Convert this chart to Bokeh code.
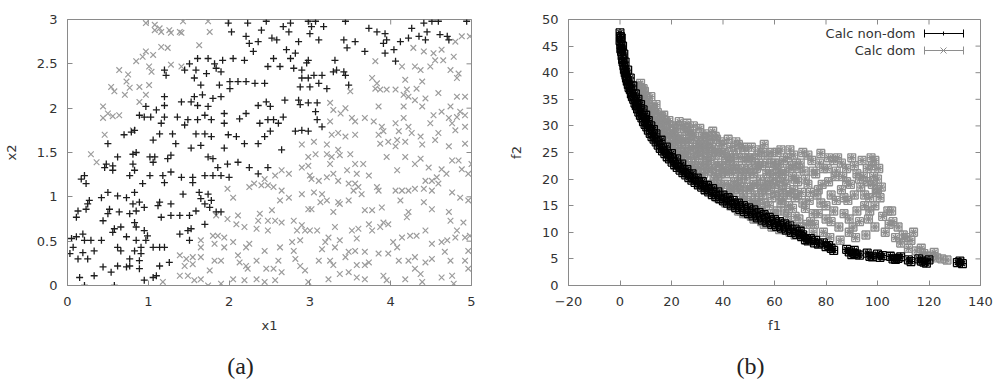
import math
from bokeh.plotting import figure
from bokeh.layouts import row, column
from bokeh.models import Range1d, FixedTicker, ColumnDataSource, Label, Arrow, TeeHead
from bokeh.embed import file_html
from bokeh.resources import INLINE

# ---------------- panel (a): decision space ----------------
nondom_a = [
 (1.99,2.96),(2.23,2.96),(2.46,2.98),(2.03,2.86),(2.21,2.81),(2.40,2.88),(2.25,2.73),(2.36,2.75),(2.30,2.64),
 (2.05,2.56),(2.19,2.54),(1.92,2.54),(1.82,2.50),(1.74,2.56),(1.61,2.56),(1.51,2.50),(1.59,2.43),(1.72,2.39),
 (1.84,2.45),(1.90,2.41),(1.45,2.43),(1.20,2.43),(1.22,2.37),(1.57,2.34),(1.65,2.26),(1.88,2.26),(2.01,2.30),
 (2.11,2.30),(2.21,2.30),(2.32,2.28),(2.44,2.28),(2.48,2.47),(2.01,2.22),(1.90,2.13),(1.80,2.11),(1.67,2.15),
 (1.57,2.13),(1.53,2.07),(1.41,2.07),(1.20,2.13),(1.20,2.03),(0.97,2.02),(1.10,1.98),(0.89,1.92),(0.95,1.90),
 (1.03,1.90),(1.20,1.90),(1.16,1.83),(1.36,1.90),(1.49,1.87),(1.45,1.81),(1.61,1.87),(1.70,1.92),(1.78,1.87),
 (1.94,1.94),(1.94,1.83),(2.13,1.88),(2.21,1.94),(2.36,2.03),(2.46,2.07),(2.38,1.83),(2.48,1.87),(1.61,2.03),
 (1.74,2.02),(0.70,1.70),(0.79,1.73),(0.83,1.75),(1.14,1.71),(1.30,1.71),(1.06,1.64),(1.59,1.71),(1.70,1.71),
 (1.78,1.68),(1.99,1.70),(2.09,1.68),(0.50,1.60),(1.34,1.60),(1.53,1.55),(1.65,1.58),(1.94,1.55),(2.19,1.60),
 (2.36,1.60),(2.44,1.68),
 (2.76,2.96),(2.67,2.92),(2.74,2.86),(2.98,2.98),(3.07,2.98),(3.02,2.92),(3.00,2.84),(3.11,2.77),(3.17,2.92),
 (3.44,2.98),(2.53,2.79),(2.59,2.77),(2.86,2.75),(2.71,2.66),(2.82,2.62),(2.76,2.56),(2.55,2.56),(2.98,2.54),
 (2.96,2.51),(2.80,2.45),(2.90,2.43),(2.63,2.47),(3.31,2.54),(3.29,2.41),(3.42,2.41),(3.44,2.37),(3.48,2.26),
 (3.33,2.43),(3.42,2.77),(3.56,2.75),(3.46,2.68),(3.68,2.64),(3.73,2.90),(3.83,2.86),(3.93,2.84),(3.95,2.77),
 (3.91,2.73),(4.12,2.75),(4.04,2.66),(4.06,2.53),(3.93,2.62),(4.22,2.79),(4.35,2.81),(4.43,2.77),(4.45,2.86),
 (4.41,2.96),(4.51,2.98),(4.59,2.98),(4.61,2.83),(4.70,2.81),(4.72,2.77),(4.94,2.98),(4.26,2.90),(2.90,2.34),
 (2.98,2.34),(3.05,2.37),(3.15,2.37),(2.88,2.24),(3.00,2.24),(3.11,2.28),(3.21,2.22),(2.69,2.09),(2.86,2.09),
 (2.88,2.04),(2.98,2.06),(3.09,2.06),(3.07,1.96),(3.09,1.87),(3.15,1.79),(2.51,2.02),(2.55,1.87),(2.61,1.83),
 (2.67,1.90),(2.51,1.74),(2.82,1.74),(2.90,1.75),(2.98,1.74),(2.65,1.53),
 (0.62,1.45),(0.81,1.48),(0.85,1.50),(1.02,1.45),(1.08,1.45),(1.06,1.39),(1.24,1.43),(1.28,1.47),(0.81,1.37),
 (0.83,1.30),(0.48,1.37),(0.46,1.33),(0.56,1.35),(0.56,1.30),(0.21,1.24),(0.17,1.20),(0.23,1.15),(0.77,1.24),
 (1.02,1.24),(1.18,1.24),(1.20,1.16),(1.28,1.28),(1.41,1.22),(1.55,1.16),(1.55,1.22),(1.70,1.24),(1.80,1.24),
 (1.90,1.24),(2.00,1.22),(2.11,1.39),(1.98,1.37),(1.80,1.43),(1.86,1.33),(1.74,1.45),(2.25,1.33),(2.36,1.26),
 (2.48,1.33),(0.93,1.15),(0.50,1.05),(0.42,0.99),(0.27,0.96),(0.25,0.92),(0.23,0.86),(0.13,0.84),(0.11,0.77),
 (0.62,1.01),(0.73,0.99),(0.83,1.05),(0.81,0.92),(0.89,0.94),(0.95,0.88),(0.85,0.84),(0.77,0.81),(0.52,0.86),
 (0.50,0.81),(0.64,0.83),(0.44,0.73),(0.58,0.64),(0.56,0.60),(0.66,0.66),(1.14,0.94),(1.12,0.90),(1.28,0.92),
 (1.16,0.77),(1.28,0.79),(1.43,1.03),(1.63,1.05),(1.65,0.98),(1.74,1.03),(1.78,0.96),(1.70,0.92),(1.76,0.88),
 (1.84,0.83),(1.90,0.83),(1.59,0.84),(1.70,0.69),(1.51,0.79),(1.39,0.79),(1.53,0.64),(1.49,0.62),(1.39,0.58),
 (0.83,0.71),(0.85,0.66),(0.95,0.62),(0.99,0.56),(0.97,0.51),(1.06,0.43),(1.14,0.43),(1.20,0.43),(0.73,0.55),
 (0.85,0.51),(0.91,0.43),(1.51,0.51),(0.05,0.53),(0.07,0.43),(0.03,0.36),(0.13,0.30),(0.21,0.51),(0.29,0.51),
 (0.42,0.51),(0.19,0.37),(0.25,0.30),(0.33,0.39),(0.62,0.43),(0.66,0.39),(0.83,0.39),(0.91,0.36),(0.77,0.30),
 (0.89,0.28),(0.77,0.22),(0.89,0.19),(0.62,0.22),(0.44,0.21),(0.54,0.15),(0.73,0.21),(1.14,0.22),(1.26,0.26),
 (1.10,0.11),(1.06,0.09),(0.95,0.06),(0.15,0.09),(0.33,0.11),(0.21,0.00),(0.58,0.00),(0.11,0.55),(0.19,0.58),
]

dom_a = [
 (0.97,2.96),(1.08,2.94),(1.14,2.90),(1.08,2.88),(1.16,2.86),(1.26,2.88),(1.28,2.85),(1.39,2.86),(1.41,2.85),
 (1.43,2.98),(1.74,2.98),(1.76,2.86),(1.63,2.71),(1.16,2.69),(1.24,2.68),(0.97,2.64),(1.06,2.60),(0.93,2.58),
 (0.85,2.53),(1.01,2.47),(1.04,2.41),(1.28,2.49),(1.41,2.47),(0.64,2.43),(0.75,2.38),(0.73,2.30),(0.54,2.24),
 (0.58,2.19),(0.77,2.23),(0.71,2.15),(0.89,2.24),(1.01,2.26),(0.97,2.15),(0.89,2.07),(0.44,2.02),(0.50,1.94),
 (0.44,1.89),(0.56,1.91),(0.64,1.92),(0.46,1.70),(0.81,1.75),
 (4.28,2.68),(4.41,2.64),(4.53,2.62),(4.63,2.66),(4.55,2.54),(4.65,2.54),(4.78,2.58),(4.80,2.75),(4.88,2.81),
 (4.98,2.81),(4.30,2.47),(4.14,2.47),(4.18,2.32),(4.37,2.43),(4.49,2.47),(4.74,2.43),(4.84,2.39),(4.82,2.34),
 (3.81,2.53),(3.77,2.34),(3.83,2.28),(3.81,2.22),(3.87,2.21),(3.95,2.21),(4.06,2.21),(4.20,2.21),(4.32,2.22),
 (4.39,2.30),(4.16,2.15),(4.22,2.13),(4.30,2.09),(4.43,2.11),(4.59,2.17),(4.82,2.13),(4.92,2.13),(3.85,2.02),
 (4.16,2.02),(4.39,2.02),(4.63,1.96),(4.53,1.92),(4.74,2.02),(4.86,1.96),(4.82,1.90),(4.92,1.92),(3.25,2.06),
 (3.29,1.98),(3.38,1.94),(3.44,2.00),(3.52,1.89),(3.56,1.85),(3.68,1.89),(3.79,1.85),(3.25,1.85),(3.89,1.79),
 (4.06,1.83),(4.16,1.89),(4.22,1.79),(4.10,1.74),(3.91,1.74),(4.26,1.72),(4.49,1.83),(4.72,1.89),(4.76,1.83),
 (4.59,1.72),(4.80,1.75),(4.92,1.79),(3.27,1.70),(3.35,1.72),(3.44,1.68),(3.56,1.70),(2.90,1.59),(3.05,1.62),
 (3.21,1.59),(3.35,1.53),(3.85,1.70),(3.87,1.60),(3.97,1.62),(4.08,1.64),(4.06,1.57),(4.18,1.62),(4.37,1.68),
 (4.39,1.59),(4.55,1.64),(4.72,1.57),(4.92,1.60),(3.50,2.19),
 (0.29,1.48),(0.36,1.39),(1.98,1.09),(2.25,1.11),(2.31,1.15),(2.40,1.13),(2.44,1.20),(2.48,1.13),(2.05,0.99),
 (1.84,0.79),(1.98,0.75),(2.11,0.79),(2.09,0.69),(2.19,0.66),(2.38,0.81),(2.36,0.73),(2.48,0.73),(2.34,0.64),
 (2.48,0.62),(1.80,0.56),(1.86,0.56),(1.94,0.54),(1.82,0.47),(1.94,0.43),(2.05,0.49),(1.65,0.43),(1.65,0.51),
 (1.39,0.34),(1.47,0.30),(1.55,0.32),(1.65,0.32),(1.45,0.22),(1.55,0.24),(1.82,0.28),(1.90,0.28),(1.76,0.17),
 (2.11,0.34),(2.21,0.43),(2.25,0.47),(2.13,0.26),(2.21,0.22),(2.34,0.28),(2.44,0.39),(2.46,0.19),(2.23,0.19),
 (1.39,0.11),(1.49,0.11),(1.57,0.06),(1.65,0.07),(1.74,0.00),(1.90,0.02),(2.05,0.07),(2.19,0.06),(2.34,0.07),
 (2.44,0.04),(1.18,0.04),
 (2.98,1.45),(3.07,1.48),(3.21,1.48),(3.27,1.45),(3.37,1.47),(3.50,1.48),(3.25,1.37),(2.90,1.33),(2.98,1.35),
 (3.02,1.20),(3.00,1.24),(3.11,1.18),(3.21,1.22),(3.29,1.26),(3.35,1.18),(3.46,1.30),(3.56,1.37),(3.66,1.37),
 (3.73,1.24),(3.58,1.26),(2.57,1.24),(2.65,1.30),(2.74,1.26),(2.55,1.11),(2.65,1.07),(2.74,0.99),(2.63,0.96),
 (2.53,0.85),(2.90,1.03),(3.05,1.05),(3.15,1.03),(3.21,0.96),(3.13,0.94),(2.98,0.86),(3.02,0.86),(3.29,0.83),
 (3.35,0.94),(3.37,0.92),(3.48,0.96),(3.54,1.07),(3.60,1.11),(3.64,1.03),(3.48,1.15),(3.56,1.15),(3.68,0.85),
 (3.77,0.85),(3.89,0.88),(3.85,1.07),(3.83,1.11),(4.06,1.07),(4.14,1.07),(4.22,1.07),(4.30,1.09),(4.43,1.18),
 (4.51,1.18),(4.41,1.09),(4.51,1.07),(4.59,1.15),(4.69,1.26),(4.76,1.41),(4.84,1.41),(4.63,1.31),(4.88,1.31),
 (4.96,1.26),(5.00,1.37),(3.95,1.45),(4.08,1.30),(4.18,1.45),(4.30,1.37),(4.37,1.43),(4.47,1.33),(4.57,1.22),
 (4.12,0.96),(4.22,0.83),(4.20,0.77),(4.41,0.94),(4.51,0.86),(4.72,0.83),(4.76,1.05),(4.86,0.99),(4.96,0.96),
 (4.90,0.71),(4.74,0.73),(2.57,0.73),(2.65,0.71),(2.80,0.73),(2.84,0.62),(2.90,0.68),(2.94,0.62),(3.00,0.62),
 (3.09,0.62),(2.88,0.51),(2.78,0.49),(2.80,0.39),(2.82,0.30),(2.88,0.22),(2.63,0.43),(2.61,0.28),(2.55,0.19),
 (2.65,0.15),(2.57,0.06),(3.23,0.54),(3.19,0.49),(3.15,0.41),(3.31,0.66),(3.31,0.43),(3.37,0.51),(3.52,0.62),
 (3.60,0.64),(3.58,0.53),(3.73,0.69),(3.77,0.62),(3.87,0.66),(3.91,0.71),(3.97,0.69),(3.11,0.28),(3.25,0.28),
 (3.29,0.23),(3.44,0.32),(3.48,0.38),(3.56,0.39),(3.68,0.38),(3.73,0.26),(3.68,0.23),(3.58,0.23),(3.85,0.36),
 (3.97,0.36),(4.03,0.49),(4.08,0.43),(4.14,0.54),(4.24,0.56),(4.32,0.56),(4.43,0.62),(4.51,0.47),(4.63,0.49),
 (4.70,0.51),(4.67,0.38),(4.82,0.62),(4.80,0.54),(4.92,0.54),(4.98,0.56),(4.96,0.39),(4.74,0.28),(4.92,0.28),
 (4.96,0.19),(4.51,0.30),(4.43,0.26),(4.30,0.32),(4.22,0.28),(4.10,0.28),(4.30,0.19),(2.98,0.04),(3.23,0.07),
 (3.37,0.13),(3.48,0.15),(3.58,0.09),(3.68,0.07),(3.91,0.11),(3.95,0.06),(4.18,0.07),(4.37,0.13),(4.63,0.09),
 (4.76,0.11),(2.94,0.17),(4.39,0.04),(4.78,0.02),
]

# ---------------- panel (b): objective space ----------------
nondom_b = [
 (0,47.5),(0.2,46.8),(0,46),(0.4,45.2),(0.3,44.5),(0.6,44),(0.8,43.2),(1,42.5),(1.2,42),(1.5,41.3),(1.7,40.6),
 (2,40),(2.3,39.5),(2.5,39),(2.8,38.4),(3.2,37.8),(3.5,37.2),(4,36.8),(4.4,36),(4.8,35.5),(5.3,35),(5.8,34.3),
 (6.3,33.8),(6.8,33.2),(7.3,32.6),(7.9,32),(8.5,31.5),(9.1,30.8),(9.7,30.3),(10.4,29.8),(11,29.2),(11.7,28.6),
 (12.4,28),(13.2,27.5),(14,27),(14.8,26.4),(15.6,25.8),(16.5,25.3),(17.4,24.8),(18.3,24.2),(19.2,23.8),
 (20.2,23.2),(21.2,22.7),(22.2,22.2),(23.3,21.7),(24.4,21.2),(25.5,20.8),(26.7,20.3),(27.9,19.8),(29.1,19.4),
 (30.4,18.9),(31.7,18.5),(33,18),(34.4,17.6),(35.8,17.1),(37.2,16.7),(38.7,16.3),(40.2,15.9),(41.7,15.5),
 (43.3,15.1),(44.9,14.7),(46.5,14.3),(48.2,13.9),(49.9,13.5),(51.6,13.1),(53.4,12.7),(55.2,12.3),(57,11.9),
 (58.9,11.5),(60.8,11.1),(62.7,10.8),(64.6,10.4),(66.6,10),(68.6,9.6),(70.5,9.2),(72,8.6),(73,8.4),(75.5,8),
 (77,7.8),(80,7.3),(82,7),(83,6.6),(89,6.3),(90,5.8),(91,6),(92,5.9),(93,5.7),(97,5.5),(98,5.4),(101,5.3),
 (102,5.6),(106,5),(107,4.9),(108,5.1),(112,4.8),(113,4.5),(117,4.6),(118,4.4),(119,4.2),(131,4.3),(133,4.1),
 (0.5,46.5),(1,45),(1.5,43.5),(2,42),(3,40.5),(4,39),(5,37.5),(6,36),(7,35),(8,34),(9,33),(10,32),(11,31),
 (12,30),(13,29.3),(14,28.5),(16,27.3),(18,26),(20,24.8),(22,23.8),(24,22.8),(26,21.8),(28,21),(30,20.2),
 (32,19.5),(34,18.8),(36,18.2),(38,17.6),(40,17),(42,16.5),(44,16),(46,15.5),(48,15),(50,14.6),(52,14.2),
 (54,13.7),(56,13.3),(58,12.8),(60,12.4),(62,12),(64,11.6),(66,11.2),(68,10.6),(70,10.2),(71,9.5),(74,8.8),
 (76,8.5),(79,8),(81,7.5),(88,6.8),(91,6.6),(96,6.1),(100,5.9),(105,5.5),(109,5.4),(116,5),(120,4.8),(132,4.6),
]

dom_b = [
 (6,37),(7,36.5),(8,38),(9,35),(8.5,36.8),(10,34),(7.5,35.5),(9.5,36.5),
 (11,33),(12,35.5),(13,31),(12.5,33.5),(14,34),(14.5,30.5),(11.5,31.5),(13.5,32.5),(15,29),
 (16,31.8),(17,29),(18,30.5),(16.5,27.5),(19,27),(18.5,28.5),(20,26),(17.5,31),(19.5,30),(15.5,30),
 (21,29),(22,25),(23,30.8),(24,27),(21.5,23.5),(22.5,28),(24.5,24),(25,29.5),(23.5,22.5),(20.5,27),
 (26,30.5),(27,26),(28,28.5),(26.5,22.5),(29,24),(30,27),(27.5,21),(28.5,30),(29.5,21.5),(26,25),
 (31,29.5),(32,25.5),(33,22),(34,28),(31.5,20.5),(33.5,24),(35,19),(30.5,23),(32.5,27),(34.5,21.5),
 (36,29),(37,24.5),(38,20),(39,27),(36.5,18.5),(38.5,22.5),(40,17.5),(35.5,26),(37.5,27.5),(39.5,25),
 (41,21),(42,27.5),(43,18),(44,24.5),(41.5,16.5),(43.5,22),(45,16),(40.5,25),(44.5,19.5),(42.5,23.5),
 (46,26.5),(47,20),(48,17),(49,23.5),(46.5,15.5),(48.5,25.5),(50,14.5),(45.5,22),(47.5,24),(49.5,18.5),
 (51,26),(52,19),(53,22),(54,16),(51.5,13.5),(53.5,24.5),(55,14),(50.5,21),(52.5,17),(54.5,20),
 (56,26.5),(57,21),(58,15),(59,23),(56.5,12.5),(58.5,18.5),(60,13.5),(55.5,17),(57.5,24.5),(59.5,20),
 (61,25),(62,17),(63,21),(64,14),(61.5,12),(63.5,23.5),(65,11.5),(60.5,19),(62.5,15.5),(64.5,19),
 (66,25.5),(67,20.5),(68,13),(69,17),(66.5,10.5),(68.5,23),(70,11),(65.5,15),(67.5,18),(69.5,22),
 (71,25),(72,14.5),(73,19),(74,12),(71.5,21.5),(73.5,16),(75,10),(70.5,17.5),(74.5,23.5),
 (76,21),(77,13.5),(78,24.8),(79,10),(76.5,17),(78.5,19),(80,15),(75.5,11.5),(77.5,23),
 (81,19.5),(82,12),(83,23.5),(84,16),(81.5,9),(83.5,20.5),(85,11),(80.5,22),(84.5,24),
 (86,18),(87,13.5),(88,22),(89,10),(86.5,20.5),(88.5,16),(90,24),(85.5,8.5),(89.5,19),
 (91,17),(92,21),(93,12),(94,23.5),(91.5,9),(93.5,18.5),(95,15),(90.5,11),(94.5,20.5),
 (96,22),(97,16.5),(98,19),(99,23.5),(96.5,12.5),(98.5,20.5),(100,20),(95.5,9.5),(99.5,17.5),(97.5,24),
 (101,16.5),(102,13),(103,10),(104,14),(101.5,18.5),(104.5,11.5),(100.5,22),
 (106,12),(107,9),(108,11),(109,8),(105.5,14),(110,9.5),
 (111,9),(112,7),(113,8.5),(115,6.5),(117,7),(118,6),(119,5.5),(114,10),
 (121,5.5),(123,5.2),(125,5),(127,4.8),(122,6.2),
 (6.5,35.5),(8,34.5),(9,33.5),(10.5,32),(11,30.5),(12,30),(13,29.5),(14,28.5),(15,28),(16,27),(17,26.5),
 (18,26),(19,25.5),(20,25),(21,24.5),(22,24),(23,23),(24,22.5),(25,22),(26,21.5),(27,21.5),(28,20.5),
 (29,20),(30,20),(31,19),(32,19),(33,18.5),(34,18),(35,18),(36,17.5),(37,17),(38,16.5),(39,16.5),(40,16),
 (41,15.5),(42,15.5),(43,15),(44,15),(45,14.5),(46,14),(47,14),(48,13.5),(49,13.5),(50,13.5),(51,13),
 (52,12.5),(53,12.5),(54,12.5),(55,12),(56,11.5),(57,11.5),(58,11.5),(59,11),(60,11),(62,10.5),(64,10.5),
 (66,10),(68,9.5),
 (12,32),(14,31),(16,29),(18,28),(20,28.5),(22,27),(24,26),(26,27.5),(28,25.5),(30,25),(32,23),(34,25),
 (36,22),(38,25.5),(40,22),(42,19),(44,21),(46,18),(48,22),(50,24),(52,21),(54,23),(56,19),(58,21.5),
 (60,23),(62,19.5),(64,21.5),(66,17.5),(68,20),(27,29),(31,26.5),(35,23.5),(39,19),(43,26),(47,18.5),
 (51,16),(55,22.5),(59,16.5),(63,18),(67,22.5),(33,28.5),(37,21),(41,23),(45,25.5),(49,20),(53,15),
 (57,18),(61,22),(65,24),
 (5.5,36.5),(7,37.5),(9,37),(10,35.5),(11,34.5),(12.5,31),(13,33.5),(14.5,32.5),(15.5,31.5),(10.5,33),
 (16.5,30.5),(17,32),(18,29.5),(19,31),(19.5,28),(20.5,30),(21,26),(22,29.5),(23,27.5),(23.5,25),(24,30),
 (25,27),(25,24.5),(21,28),(26,29),(27,27.5),(27.5,24),(28,23),(29,28),(29.5,26),(30,22),(31,24.5),(32,28),
 (32.5,21),(33,26),(34,23),(34.5,26.5),(35,27.5),(36,25),(36.5,20),(37,28),(38,23),(38.5,18),(39,21),
 (40,26.5),(40.5,19),(41,24),(42,21.5),(42.5,17),(43,24),(44,18),(44.5,22.5),(45,27),(45.5,19),(46,24),
 (47,16),(47.5,21),(48,26),(49,16),(50,22),(50.5,18),(51,24),(52,15),(52.5,23),(53,19),(54,25.5),(54.5,14.5),
 (55,18),(55.5,25),(56,15.5),(57,23),(58,19.5),(58.5,13),(59,25),(60,17.5),(60.5,21),(61,14),(62,23),
 (62.5,25.5),(63,16),(64,20),(65,17),(65,13),(66,22),(67,14.5),(67.5,24.5),(68,16.5),(69,19.5),(69.5,12.5),
 (70,23),(71,15.5),(72,20),(72.5,11.5),(73,24.5),(74,17.5),(75,21.5),(75,13.5),(77,18),(78,15.5),(79,22),
 (80,12.5),(81,24),(82,17),(83,14),(84,21.5),(86,23),(87,16.5),(88,19.5),(89,12.5),(91,22.5),(92,14),
 (93,20),(95,17),(96,19.5),(97,14),(98,22.5),(99,11),(100,18),(99,15),
]

f1_err = 1.5
f2_err = 0.75

a_xticks = [0, 1, 2, 3, 4, 5]
a_yticks = [0, 0.5, 1, 1.5, 2, 2.5, 3]
b_xticks = [-20, 0, 20, 40, 60, 80, 100, 120, 140]
b_yticks = [0, 5, 10, 15, 20, 25, 30, 35, 40, 45, 50]

FONT = "DejaVu Sans"
TXT = "#333333"
BORDER = "#8a8a8a"
PLOT_H = 345
CAP_H = 36


def style(p, xt, yt, xlabel, ylabel, xstand, ystand):
    p.xaxis.ticker = FixedTicker(ticks=xt)
    p.yaxis.ticker = FixedTicker(ticks=yt)
    p.xaxis.axis_label = xlabel
    p.yaxis.axis_label = ylabel
    for ax in list(p.xaxis) + list(p.yaxis):
        ax.major_tick_in = 5
        ax.major_tick_out = 0
        ax.minor_tick_line_color = None
        ax.major_tick_line_color = BORDER
        ax.axis_line_color = BORDER
        ax.major_label_text_font = FONT
        ax.major_label_text_font_size = "13px"
        ax.major_label_text_color = TXT
        ax.axis_label_text_font = FONT
        ax.axis_label_text_font_size = "13px"
        ax.axis_label_text_font_style = "normal"
        ax.axis_label_text_color = TXT
    p.xaxis.major_label_standoff = 11
    p.yaxis.major_label_standoff = 10
    p.xaxis.axis_label_standoff = xstand
    p.yaxis.axis_label_standoff = ystand
    # mirrored tick marks on the top and right borders (gnuplot style)
    p.scatter(xt, [p.y_range.end] * len(xt), marker="dash", angle=math.pi / 2, size=10,
              line_color=BORDER, line_width=1)
    p.scatter([p.x_range.end] * len(yt), yt, marker="dash", size=10,
              line_color=BORDER, line_width=1)
    p.grid.visible = False
    p.outline_line_color = BORDER
    p.outline_line_width = 1
    p.background_fill_color = "white"
    p.border_fill_color = "white"


def caption(txt, cx):
    c = figure(width=497, height=CAP_H, output_backend="svg", toolbar_location=None,
               x_range=Range1d(0, 1), y_range=Range1d(0, 1), min_border=0,
               x_axis_type=None, y_axis_type=None)
    c.outline_line_color = None
    c.grid.visible = False
    c.add_layout(Label(x=cx, y=CAP_H - 20, x_units="screen", y_units="screen", text=txt,
                       text_align="center", text_baseline="middle",
                       text_font="Liberation Serif", text_font_size="24px",
                       text_color="#222222"))
    return c


# ---- figure (a)
pa = figure(width=497, height=PLOT_H, output_backend="svg", toolbar_location=None,
            x_range=Range1d(0, 5), y_range=Range1d(0, 3),
            min_border_left=67, min_border_right=26, min_border_top=19, min_border_bottom=PLOT_H - 285)
style(pa, a_xticks, a_yticks, "x1", "x2", 9, 15)

pa.scatter([q[0] for q in dom_a], [q[1] for q in dom_a], marker="x", size=8,
           line_color="#9c9c9c", line_width=1.2)
pa.scatter([q[0] for q in nondom_a], [q[1] for q in nondom_a], marker="cross", size=7,
           line_color="#1e1e1e", line_width=1.3)

# ---- figure (b)
pb = figure(width=497, height=PLOT_H, output_backend="svg", toolbar_location=None,
            x_range=Range1d(-20, 140), y_range=Range1d(0, 50),
            min_border_left=71, min_border_right=14, min_border_top=19, min_border_bottom=PLOT_H - 285)
style(pb, b_xticks, b_yticks, "f1", "f2", 9, 15)


def errseries(p, pts, color, marker, msize, lw):
    f1 = [q[0] for q in pts]
    f2 = [q[1] for q in pts]
    src = ColumnDataSource(dict(
        f1=f1, f2=f2,
        f1lo=[v - f1_err for v in f1], f1hi=[v + f1_err for v in f1],
        f2lo=[v - f2_err for v in f2], f2hi=[v + f2_err for v in f2]))
    p.segment(x0="f1lo", y0="f2", x1="f1hi", y1="f2", source=src, line_color=color, line_width=lw)
    p.segment(x0="f1", y0="f2lo", x1="f1", y1="f2hi", source=src, line_color=color, line_width=lw)
    p.scatter(x="f1lo", y="f2", source=src, marker="dash", angle=math.pi / 2, size=8, line_color=color, line_width=lw)
    p.scatter(x="f1hi", y="f2", source=src, marker="dash", angle=math.pi / 2, size=8, line_color=color, line_width=lw)
    p.scatter(x="f1", y="f2lo", source=src, marker="dash", size=8, line_color=color, line_width=lw)
    p.scatter(x="f1", y="f2hi", source=src, marker="dash", size=8, line_color=color, line_width=lw)
    p.scatter(x="f1", y="f2", source=src, marker=marker, size=msize, line_color=color, line_width=lw)


GREY_B = "#8e8e8e"
errseries(pb, dom_b, GREY_B, "x", 7, 1.4)
errseries(pb, nondom_b, "#000000", "x", 7, 1.3)

# gnuplot-style key (text on the left, sample on the right)
for txt, yy, col in [("Calc non-dom", 252, "#000000"), ("Calc dom", 235, GREY_B)]:
    pb.add_layout(Label(x=347, y=yy, x_units="screen", y_units="screen", text=txt,
                        text_align="right", text_baseline="middle", text_font=FONT,
                        text_font_size="13px", text_color=TXT))
    pb.add_layout(Arrow(x_start=356, y_start=yy, x_end=395, y_end=yy,
                        start_units="screen", end_units="screen", line_color=col, line_width=1,
                        start=TeeHead(size=8, line_color=col), end=TeeHead(size=8, line_color=col)))
pb.add_layout(Arrow(x_start=375, y_start=250, x_end=375, y_end=254, start_units="screen",
                    end_units="screen", line_color="#000000", end=None))
pb.add_layout(Arrow(x_start=372, y_start=232, x_end=378, y_end=238, start_units="screen",
                    end_units="screen", line_color=GREY_B, end=None))
pb.add_layout(Arrow(x_start=372, y_start=238, x_end=378, y_end=232, start_units="screen",
                    end_units="screen", line_color=GREY_B, end=None))

cap_a = caption("(a)", 240)
cap_b = caption("(b)", 253)

layout = column(row(pa, pb), row(cap_a, cap_b))
open("out.html", "w").write(file_html(layout, INLINE))
